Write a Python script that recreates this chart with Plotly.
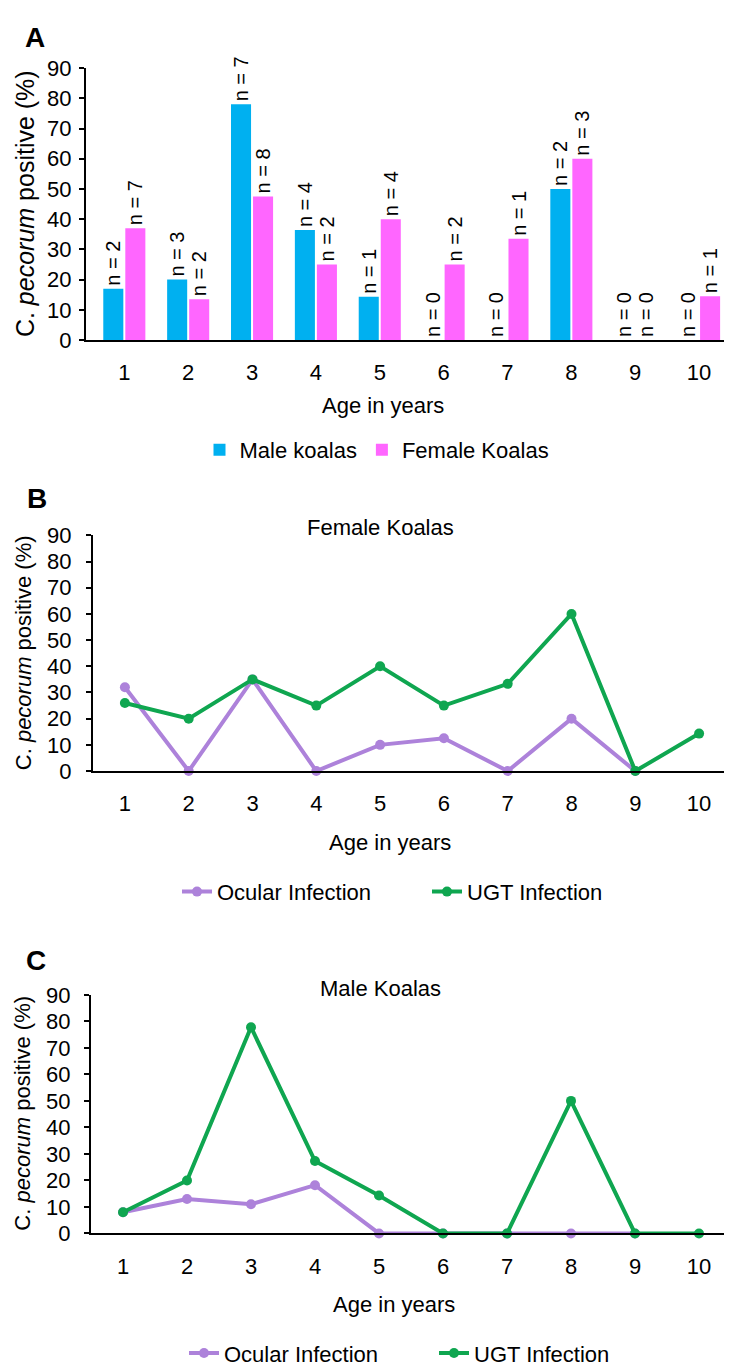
import plotly.graph_objects as go

W, H = 732, 1370

# ---------------- data ----------------
ages = [1, 2, 3, 4, 5, 6, 7, 8, 9, 10]
tick_labels = ["1", "2", "3", "4", "5", "6", "7", "8", "9", "10"]
y_ticks = [0, 10, 20, 30, 40, 50, 60, 70, 80, 90]

male_pct = [17, 20, 78, 36.4, 14.3, 0, 0, 50, 0, 0]
female_pct = [37, 13.5, 47.5, 25, 40, 25, 33.5, 60, 0, 14.5]
male_n = [2, 3, 7, 4, 1, 0, 0, 2, 0, 0]
female_n = [7, 2, 8, 2, 4, 2, 1, 3, 0, 1]

b_ocular = [32, 0, 35, 0, 10, 12.5, 0, 20, 0, None]
b_ugt = [26, 20, 35, 25, 40, 25, 33.3, 60, 0, 14.3]

c_ocular = [8, 13, 11, 18.2, 0, 0, 0, 0, 0, None]
c_ugt = [8, 20, 77.8, 27.3, 14.3, 0, 0, 50, 0, 0]

# ---------------- style ----------------
FONT = "Liberation Sans, Arial, sans-serif"
BLUE = "#00B0F0"
PINK = "#FF66FF"
PURPLE = "#AD82DA"
GREEN = "#0FA650"


def px_x(p):
    return p / W


def px_y(p):
    return 1 - p / H


fig = go.Figure()

# Panel A bars
fig.add_trace(go.Bar(
    x=ages, y=male_pct, name="Male koalas", marker=dict(color=BLUE, line=dict(width=0)),
    text=[f"n = {n}" for n in male_n], textposition="outside", textangle=-90,
    textfont=dict(size=20, color="black", family=FONT), constraintext="none",
    cliponaxis=False, xaxis="x", yaxis="y", legend="legend", hoverinfo="skip"))
fig.add_trace(go.Bar(
    x=ages, y=female_pct, name="Female Koalas", marker=dict(color=PINK, line=dict(width=0)),
    text=[f"n = {n}" for n in female_n], textposition="outside", textangle=-90,
    textfont=dict(size=20, color="black", family=FONT), constraintext="none",
    cliponaxis=False, xaxis="x", yaxis="y", legend="legend", hoverinfo="skip"))

# Panel B lines
fig.add_trace(go.Scatter(
    x=ages, y=b_ocular, name="Ocular Infection", mode="lines+markers",
    line=dict(color=PURPLE, width=4), marker=dict(color=PURPLE, size=10),
    xaxis="x2", yaxis="y2", legend="legend2", cliponaxis=False))
fig.add_trace(go.Scatter(
    x=ages, y=b_ugt, name="UGT Infection", mode="lines+markers",
    line=dict(color=GREEN, width=4), marker=dict(color=GREEN, size=10),
    xaxis="x2", yaxis="y2", legend="legend2", cliponaxis=False))

# Panel C lines
fig.add_trace(go.Scatter(
    x=ages, y=c_ocular, name="Ocular Infection", mode="lines+markers",
    line=dict(color=PURPLE, width=4), marker=dict(color=PURPLE, size=10),
    xaxis="x3", yaxis="y3", legend="legend3", cliponaxis=False))
fig.add_trace(go.Scatter(
    x=ages, y=c_ugt, name="UGT Infection", mode="lines+markers",
    line=dict(color=GREEN, width=4), marker=dict(color=GREEN, size=10),
    xaxis="x3", yaxis="y3", legend="legend3", cliponaxis=False))


def xax(domain, rng, anchor):
    return dict(domain=domain, range=rng, anchor=anchor, tickmode="array",
                tickvals=ages, ticktext=tick_labels, showgrid=False, zeroline=False,
                showline=True, linecolor="black", linewidth=2, ticks="",
                ticklabelstandoff=12, tickfont=dict(size=22, color="black", family=FONT),
                fixedrange=True)


def yax(domain, anchor, standoff):
    return dict(domain=domain, range=[0, 90], anchor=anchor, tickmode="array",
                tickvals=y_ticks, showgrid=False, zeroline=False, showline=True,
                linecolor="black", linewidth=2, ticks="outside", ticklen=5, tickwidth=1.5,
                tickcolor="black", ticklabelstandoff=standoff,
                tickfont=dict(size=22, color="black", family=FONT), fixedrange=True)


A_x = [px_x(78), px_x(723)]
A_y = [px_y(326), px_y(49)]
B_x = [px_x(85), px_x(723)]
B_y = [px_y(765), px_y(525)]
C_x = [px_x(83), px_x(723)]
C_y = [px_y(1236), px_y(993)]

legend_common = dict(orientation="h", xanchor="center", yanchor="middle",
                     bgcolor="rgba(0,0,0,0)", borderwidth=0,
                     font=dict(size=22, color="black", family=FONT))

fig.update_layout(
    width=W, height=H, autosize=False,
    margin=dict(l=0, r=0, t=0, b=0),
    paper_bgcolor="white", plot_bgcolor="white",
    font=dict(family=FONT, size=22, color="black"),
    barmode="group", bargap=0.31, bargroupgap=0.09,
    xaxis=xax(A_x, [0.4, 10.5], "y"),
    yaxis=yax(A_y, "x", 3),
    xaxis2=xax(B_x, [0.5, 10.5], "y2"),
    yaxis2=yax(B_y, "x2", 10),
    xaxis3=xax(C_x, [0.5, 10.5], "y3"),
    yaxis3=yax(C_y, "x3", 9),
    legend=dict(x=px_x(369), y=px_y(438), **legend_common),
    legend2=dict(x=px_x(419), y=px_y(888), entrywidth=205, entrywidthmode="pixels",
                 **legend_common),
    legend3=dict(x=px_x(426), y=px_y(1358), entrywidth=205, entrywidthmode="pixels",
                 **legend_common),
    showlegend=True,
)

ann = []
# Panel letters
for letter, (ax_, ay_) in {"A": (27, 18), "B": (29, 487), "C": (28, 958)}.items():
    ann.append(dict(text=f"<b>{letter}</b>", x=px_x(ax_), y=px_y(ay_), xref="paper", yref="paper",
                    showarrow=False, xanchor="center", yanchor="middle",
                    font=dict(size=28, color="black", family=FONT)))
# Panel titles
ann.append(dict(text="Female Koalas", x=px_x(373), y=px_y(517), xref="paper", yref="paper",
                showarrow=False, xanchor="center", yanchor="middle",
                font=dict(size=22, color="black", family=FONT)))
ann.append(dict(text="Male Koalas", x=px_x(373), y=px_y(987), xref="paper", yref="paper",
                showarrow=False, xanchor="center", yanchor="middle",
                font=dict(size=22, color="black", family=FONT)))
# X titles
for (tx, ty) in [(375, 393), (382, 838), (386, 1308)]:
    ann.append(dict(text="Age in years", x=px_x(tx), y=px_y(ty), xref="paper", yref="paper",
                    showarrow=False, xanchor="center", yanchor="middle",
                    font=dict(size=22, color="black", family=FONT)))
# Y titles
ytitle = "C. <i>pecorum</i> positive (%)"
for (tx, ty, fs) in [(17, 187.5, 25), (15, 645, 22), (15, 1114, 22)]:
    ann.append(dict(text=ytitle, x=px_x(tx), y=px_y(ty), xref="paper", yref="paper",
                    showarrow=False, xanchor="center", yanchor="middle", textangle=-90,
                    font=dict(size=fs, color="black", family=FONT)))

fig.update_layout(annotations=ann)

fig.write_html("out.html")
